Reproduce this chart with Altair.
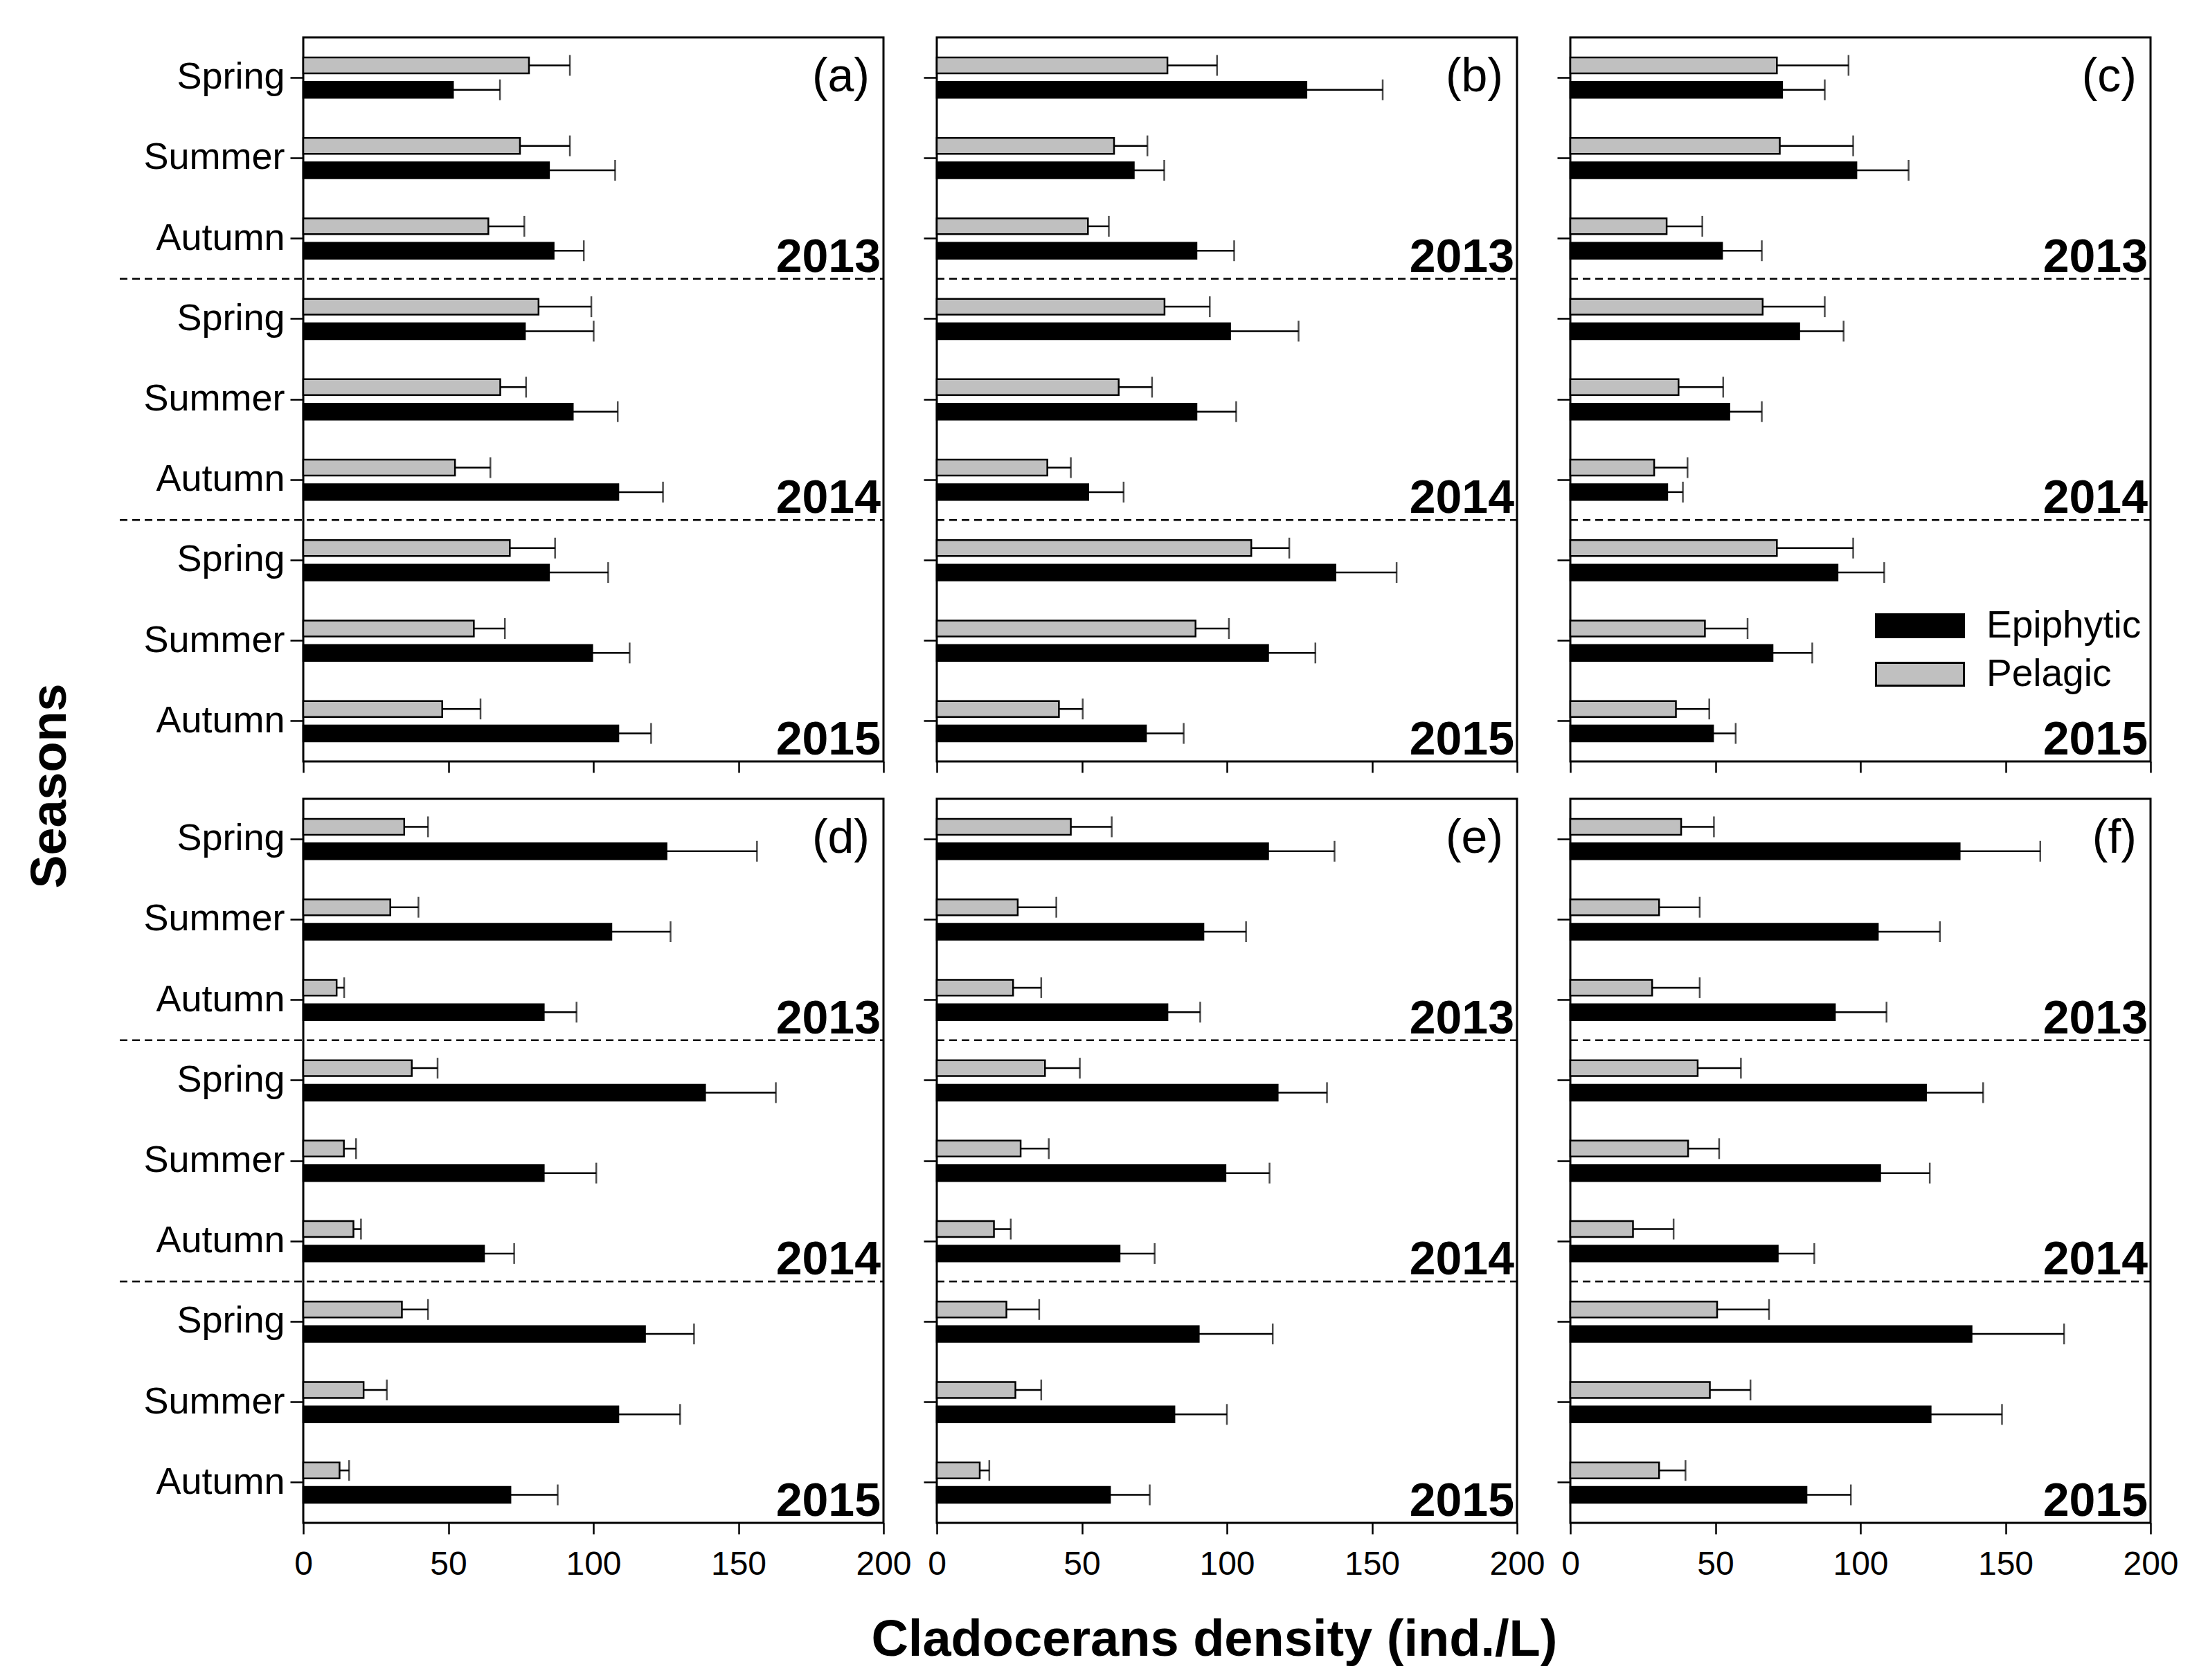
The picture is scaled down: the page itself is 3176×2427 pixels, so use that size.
import altair as alt
import pandas as pd

years = ["2013", "2014", "2015"]
seasons = ["Spring", "Summer", "Autumn"]
types_offset = ["Pelagic", "Epiphytic"]
types_legend = ["Epiphytic", "Pelagic"]
panels = ["a", "b", "c", "d", "e", "f"]

# order: 2013 Spring, Summer, Autumn, 2014 ..., 2015 ...
pel_mean = {
    "a": [77.8, 74.7, 63.8, 81.1, 67.9, 52.3, 71.2, 58.8, 47.9],
    "b": [79.5, 61.1, 52.1, 78.5, 62.7, 38.1, 108.4, 89.2, 42.1],
    "c": [71.2, 72.2, 33.2, 66.3, 37.3, 28.9, 71.2, 46.4, 36.4],
    "d": [34.8, 30.0, 11.5, 37.4, 14.0, 17.3, 34.0, 20.8, 12.5],
    "e": [46.2, 27.9, 26.3, 37.3, 28.9, 19.7, 24.0, 27.1, 14.8],
    "f": [38.2, 30.6, 28.2, 43.9, 40.6, 21.6, 50.6, 48.1, 30.6],
}
pel_sd = {
    "a": [14.1, 17.2, 12.4, 18.2, 8.9, 12.2, 15.6, 10.7, 13.2],
    "b": [17.1, 11.5, 7.2, 15.6, 11.5, 8.1, 13.1, 11.5, 8.2],
    "c": [24.7, 25.3, 12.3, 21.4, 15.4, 11.5, 26.3, 14.7, 11.5],
    "d": [8.2, 9.7, 2.6, 8.9, 4.2, 2.6, 9.0, 8.0, 3.3],
    "e": [14.1, 13.3, 9.7, 12.0, 9.7, 5.8, 11.3, 8.9, 3.3],
    "f": [11.3, 14.0, 16.4, 14.9, 10.7, 14.0, 17.9, 14.0, 9.1],
}
epi_mean = {
    "a": [51.6, 84.7, 86.3, 76.4, 92.9, 108.6, 84.7, 99.6, 108.6],
    "b": [127.4, 67.9, 89.5, 101.1, 89.5, 52.2, 137.4, 114.2, 72.1],
    "c": [73.0, 98.6, 52.3, 78.9, 54.8, 33.4, 92.1, 69.7, 49.2],
    "d": [125.2, 106.2, 82.9, 138.5, 82.9, 62.3, 117.8, 108.6, 71.4],
    "e": [114.2, 91.9, 79.5, 117.5, 99.5, 63.0, 90.3, 81.9, 59.7],
    "f": [134.2, 106.0, 91.2, 122.6, 106.8, 71.5, 138.3, 124.2, 81.4],
}
epi_sd = {
    "a": [16.2, 22.8, 10.4, 23.7, 15.5, 15.4, 20.4, 12.9, 11.3],
    "b": [26.3, 10.5, 13.0, 23.6, 13.7, 12.2, 21.1, 16.3, 13.0],
    "c": [14.7, 18.0, 13.7, 15.3, 11.2, 5.4, 16.1, 13.7, 7.8],
    "d": [31.2, 20.4, 11.3, 24.4, 18.1, 10.4, 16.9, 21.3, 16.3],
    "e": [22.9, 14.7, 11.3, 17.0, 15.2, 12.1, 25.5, 18.1, 13.7],
    "f": [27.8, 21.4, 17.8, 19.7, 17.1, 12.6, 31.9, 24.6, 15.3],
}
x_ticks = [0, 50, 100, 150, 200]

rows = [f"{y} {s}" for y in years for s in seasons]

FONT = "Liberation Sans"
W, H = 838, 1046


def panel_df(p):
    recs = []
    for i, r in enumerate(rows):
        recs.append(dict(row=r, type="Pelagic", value=pel_mean[p][i],
                         end=round(pel_mean[p][i] + pel_sd[p][i], 2)))
        recs.append(dict(row=r, type="Epiphytic", value=epi_mean[p][i],
                         end=round(epi_mean[p][i] + epi_sd[p][i], 2)))
    return pd.DataFrame(recs)


legend = alt.Legend(
    title=None, orient="none", legendX=2270, legendY=830,
    symbolType="M-1,-0.26H1V0.26H-1Z", symbolSize=16129,
    symbolStrokeColor="black", symbolStrokeWidth=3,
    labelFont=FONT, labelFontSize=55, labelColor="black", labelLimit=0,
    labelOffset=31, clipHeight=40, rowPadding=15,
)


def make_panel(p, left, bottom):
    df = panel_df(p)
    y_axis = alt.Axis(title=None, labels=left, ticks=True, tickSize=19,
                      labelPadding=8, labelExpr="split(datum.label, ' ')[1]",
                      labelFontSize=54, labelLimit=0)
    x_axis = alt.Axis(title=None, labels=bottom, values=x_ticks, tickSize=16,
                      labelPadding=20, labelFontSize=48, labelFlush=False)
    yscale = alt.Scale(domain=rows, paddingInner=0, paddingOuter=0)
    xscale = alt.Scale(domain=[0, 200], nice=False)

    def Y(**kw):
        return alt.Y("row:N", sort=rows, scale=yscale, axis=y_axis, **kw)

    YO = alt.YOffset("type:N", sort=types_offset,
                     scale=alt.Scale(domain=types_offset, paddingInner=0.35,
                                     paddingOuter=0.82))
    base = alt.Chart(df)
    bars = base.mark_bar(stroke="black", strokeWidth=2.5).encode(
        x=alt.X("value:Q", scale=xscale, axis=x_axis),
        y=Y(), yOffset=YO,
        color=alt.Color("type:N", scale=alt.Scale(domain=types_legend,
                                                  range=["black", "#c0c0c0"]),
                        legend=legend),
    )
    errs = base.mark_rule(strokeWidth=2.5, color="black").encode(
        x=alt.X("value:Q", scale=xscale, axis=x_axis), x2="end:Q",
        y=Y(), yOffset=YO,
    )
    caps = base.mark_tick(color="black", thickness=2.5, size=30).encode(
        x=alt.X("end:Q", scale=xscale, axis=x_axis),
        y=Y(), yOffset=YO,
    )
    sep_df = pd.DataFrame({"row": [f"{years[0]} {seasons[2]}", f"{years[1]} {seasons[2]}"]})
    dashed = alt.Chart(sep_df).mark_rule(strokeDash=[11, 7], strokeWidth=2.5,
                                          color="black").encode(
        y=Y(bandPosition=1),
        x=alt.value(-265 if left else 0), x2=alt.value(W),
    )
    yr_df = pd.DataFrame({"row": [f"{y} {seasons[2]}" for y in years], "label": years})
    yr_text = alt.Chart(yr_df).mark_text(
        align="right", baseline="alphabetic", dy=-10, font=FONT,
        fontSize=68, fontWeight="bold", color="black",
    ).encode(y=Y(bandPosition=1), x=alt.value(W - 4), text="label:N")
    let_df = pd.DataFrame({"row": [rows[0]], "label": [f"({p})"]})
    let_text = alt.Chart(let_df).mark_text(
        align="right", baseline="middle", font=FONT, fontSize=68, color="black",
    ).encode(y=Y(), x=alt.value(W - 20), text="label:N")
    return alt.layer(bars, errs, caps, dashed, yr_text, let_text).properties(
        width=W, height=H)


top = alt.hconcat(make_panel("a", True, False), make_panel("b", False, False),
                  make_panel("c", False, False), spacing=77, bounds="flush")
bottom = alt.hconcat(make_panel("d", True, True), make_panel("e", False, True),
                     make_panel("f", False, True), spacing=77, bounds="flush").properties(
    title=alt.TitleParams("Cladocerans density (ind./L)", orient="bottom",
                          anchor="middle", font=FONT, fontSize=74,
                          fontWeight="bold", color="black", offset=48, dx=95))

chart = alt.vconcat(top, bottom, spacing=33).properties(
    title=alt.TitleParams("Seasons", orient="left", anchor="middle", font=FONT,
                          fontSize=72, fontWeight="bold", color="black", offset=60,
                          dx=94),
    padding={"left": 29, "top": 44, "right": 20, "bottom": 20},
).configure_view(stroke="black", strokeWidth=3).configure_axis(
    domain=False, grid=False, tickColor="black", tickWidth=2.5,
    labelColor="black", labelFont=FONT,
)

chart.save("out.html", embed_options={"renderer": "svg", "actions": False})
